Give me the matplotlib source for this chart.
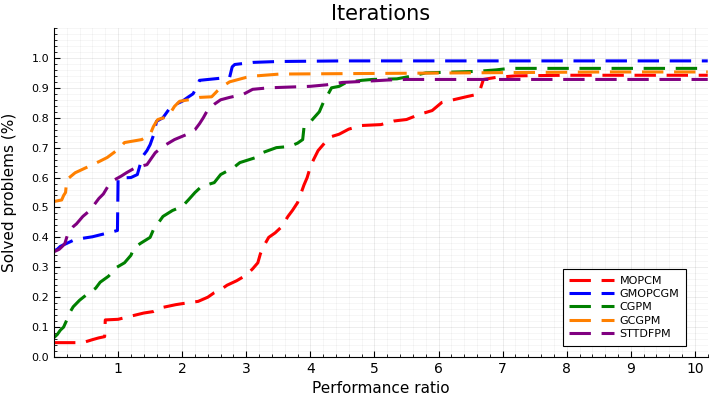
import numpy as np
from matplotlib import pyplot as plt
from matplotlib.ticker import MultipleLocator

# performance profile data (ratio, fraction solved)
labels = ['MOPCM', 'GMOPCGM', 'CGPM', 'GCGPM', 'STTDFPM']
colors = ['#ff0000', '#0000ff', '#008000', '#ff8000', '#800080']

mopcm_x = [0, 0.45, 0.6, 0.7, 0.79, 0.8, 1.0, 1.15, 1.4, 1.55, 1.7, 1.9, 2.05, 2.25, 2.4, 2.5,
           2.6, 2.7, 2.85, 3.0, 3.1, 3.18, 3.22, 3.27, 3.35, 3.45, 3.55, 3.65, 3.72, 3.8,
           3.85, 3.9, 3.95, 4.0, 4.05, 4.12, 4.2, 4.3, 4.45, 4.6, 4.8, 5.1, 5.3, 5.5, 5.7,
           5.9, 6.05, 6.25, 6.45, 6.6, 6.65, 6.7, 6.9, 7.2, 8.0, 10.2]
mopcm_y = [0.048, 0.048, 0.058, 0.064, 0.068, 0.124, 0.126, 0.134, 0.147, 0.152, 0.166, 0.175,
           0.18, 0.186, 0.2, 0.215, 0.225, 0.24, 0.255, 0.274, 0.295, 0.315, 0.345, 0.37,
           0.4, 0.415, 0.435, 0.47, 0.49, 0.516, 0.545, 0.575, 0.6, 0.636, 0.66, 0.69,
           0.71, 0.735, 0.745, 0.762, 0.774, 0.777, 0.789, 0.794, 0.811, 0.824, 0.851,
           0.861, 0.871, 0.878, 0.895, 0.928, 0.935, 0.94, 0.942, 0.942]

gmopcgm_x = [0, 0.05, 0.1, 0.2, 0.3, 0.45, 0.6, 0.75, 0.9, 0.99, 1.0, 1.2, 1.3, 1.38, 1.45,
             1.5, 1.55, 1.6, 1.7, 1.8, 1.9, 2.0, 2.1, 2.17, 2.22, 2.27, 2.5, 2.74, 2.78,
             2.82, 3.1, 3.5, 4.5, 10.2]
gmopcgm_y = [0.355, 0.36, 0.37, 0.38, 0.39, 0.397, 0.402, 0.41, 0.418, 0.423, 0.598, 0.6,
             0.61, 0.67, 0.69, 0.71, 0.74, 0.788, 0.8, 0.83, 0.845, 0.855, 0.87, 0.88, 0.9,
             0.925, 0.93, 0.935, 0.97, 0.978, 0.985, 0.988, 0.99, 0.99]

cgpm_x = [0, 0.05, 0.1, 0.15, 0.2, 0.25, 0.3, 0.4, 0.5, 0.65, 0.72, 0.85, 0.98, 1.1, 1.2,
          1.25, 1.35, 1.5, 1.55, 1.7, 1.85, 2.0, 2.1, 2.2, 2.3, 2.5, 2.6, 2.8, 2.9, 3.15,
          3.25, 3.47, 3.68, 3.8, 3.88, 3.9, 3.99, 4.14, 4.2, 4.25, 4.33, 4.45, 4.56, 4.8,
          4.97, 5.35, 5.6, 5.8, 6.6, 6.9, 7.1, 10.2]
cgpm_y = [0.065, 0.075, 0.09, 0.1, 0.124, 0.15, 0.168, 0.19, 0.207, 0.23, 0.25, 0.27, 0.3,
          0.315, 0.34, 0.365, 0.38, 0.4, 0.425, 0.47, 0.49, 0.503, 0.526, 0.55, 0.57,
          0.583, 0.61, 0.633, 0.65, 0.667, 0.683, 0.7, 0.704, 0.715, 0.727, 0.767, 0.784,
          0.82, 0.85, 0.868, 0.9, 0.905, 0.918, 0.925, 0.928, 0.93, 0.94, 0.95, 0.955,
          0.96, 0.965, 0.965]

gcgpm_x = [0, 0.12, 0.15, 0.18, 0.2, 0.33, 0.5, 0.7, 0.83, 1.0, 1.1, 1.37, 1.5, 1.55, 1.6,
           1.62, 1.78, 1.88, 1.96, 2.1, 2.27, 2.46, 2.55, 2.63, 2.74, 3.0, 3.16, 3.52,
           8.6, 10.2]
gcgpm_y = [0.52, 0.525, 0.54, 0.55, 0.593, 0.616, 0.633, 0.653, 0.667, 0.694, 0.717,
           0.727, 0.744, 0.77, 0.788, 0.794, 0.804, 0.838, 0.855, 0.86, 0.868, 0.87, 0.89,
           0.905, 0.92, 0.935, 0.94, 0.946, 0.953, 0.953]

sttdfpm_x = [0, 0.08, 0.13, 0.17, 0.22, 0.3, 0.35, 0.45, 0.56, 0.7, 0.77, 0.84, 0.95, 1.05,
             1.13, 1.27, 1.45, 1.58, 1.7, 1.88, 2.07, 2.2, 2.27, 2.33, 2.4, 2.5, 2.6, 2.74,
             2.95, 3.1, 3.35, 4.0, 4.25, 4.5, 4.87, 5.2, 5.5, 10.2]
sttdfpm_y = [0.352, 0.36, 0.37, 0.38, 0.415, 0.436, 0.445, 0.47, 0.49, 0.53, 0.545, 0.57,
             0.593, 0.605, 0.616, 0.633, 0.643, 0.683, 0.704, 0.727, 0.744, 0.76, 0.78,
             0.8, 0.827, 0.845, 0.86, 0.868, 0.878, 0.895, 0.9, 0.905, 0.91, 0.918, 0.922,
             0.926, 0.928, 0.928]

xs = [mopcm_x, gmopcgm_x, cgpm_x, gcgpm_x, sttdfpm_x]
ys = [mopcm_y, gmopcgm_y, cgpm_y, gcgpm_y, sttdfpm_y]

#plotting
fig = plt.figure(figsize=(7.2, 4), dpi=100)
ax = fig.add_axes([0.075, 0.1075, 0.908, 0.8225])
for x, y, c, l in zip(xs, ys, colors, labels):
    ax.plot(x, y, color=c, lw=2.2, ls=(0, (7, 3.5)), label=l)

ax.set_xlim(0, 10.2)
ax.set_ylim(0, 1.1)
ax.set_xticks(np.arange(1, 11))
ax.set_yticks(np.round(np.arange(0, 1.01, 0.1), 1))
ax.set_yticklabels(['%.1f' % v for v in np.arange(0, 1.01, 0.1)])
ax.xaxis.set_minor_locator(MultipleLocator(0.2))
ax.yaxis.set_minor_locator(MultipleLocator(0.02))
ax.tick_params(axis='x', which='major', direction='in', length=4, labelsize=10)
ax.tick_params(axis='y', which='major', direction='in', length=4, labelsize=8)
ax.tick_params(which='minor', direction='in', length=2)
ax.grid(which='major', color='k', alpha=0.1, lw=0.5)
ax.grid(which='minor', color='k', alpha=0.05, lw=0.5)
for s in ['top', 'right']:
    ax.spines[s].set_visible(False)
ax.set_title('Iterations', fontsize=15)
ax.set_xlabel('Performance ratio', fontsize=11)
ax.set_ylabel('Solved problems (%)', fontsize=11, labelpad=10)
leg = ax.legend(loc='lower right', bbox_to_anchor=(0.975, 0.018), fontsize=8,
                fancybox=False, edgecolor='k', framealpha=1, handlelength=4.0,
                labelspacing=0.3, handletextpad=0.5, borderpad=0.6)
leg.get_frame().set_linewidth(0.8)
plt.savefig('out.png')
